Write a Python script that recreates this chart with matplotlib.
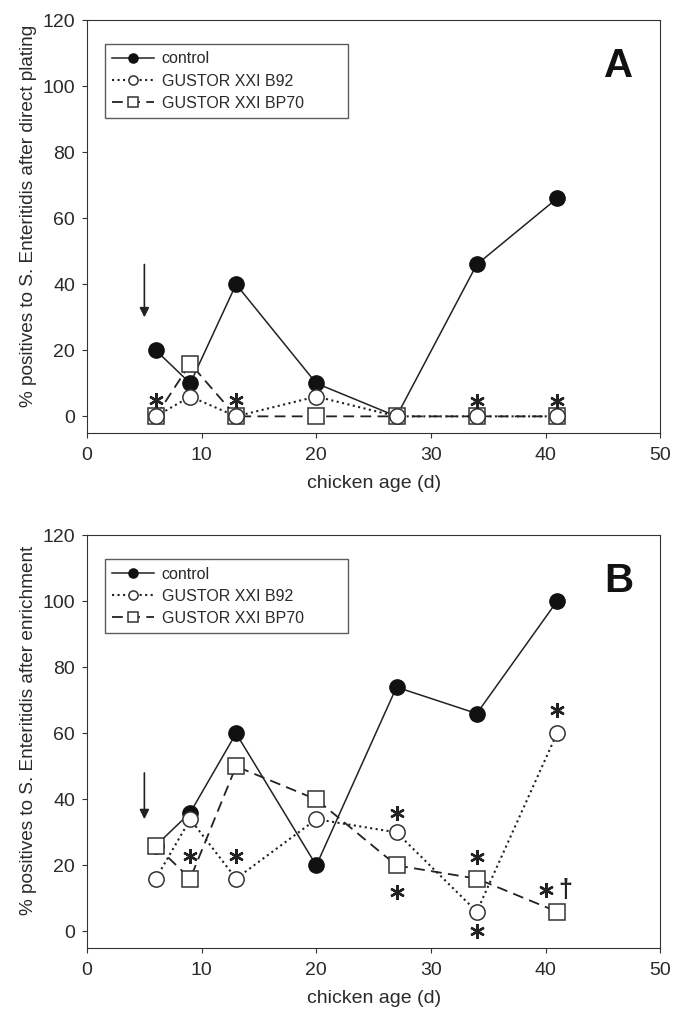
import numpy as np
import matplotlib.pyplot as plt

plt.rcParams['font.family'] = ['Liberation Sans', 'DejaVu Sans']

days = [6, 9, 13, 20, 27, 34, 41]

# panel A - direct plating
ctrlA = [20, 10, 40, 10, 0, 46, 66]
b92A = [0, 6, 0, 6, 0, 0, 0]
bp70A = [0, 16, 0, 0, 0, 0, 0]
starsA = [(6, 5), (13, 5), (34, 4.5), (41, 4.5)]

# panel B - enrichment
ctrlB = [26, 36, 60, 20, 74, 66, 100]
b92B = [16, 34, 16, 34, 30, 6, 60]
bp70B = [26, 16, 50, 40, 20, 16, 6]
starsB = [(9, 23), (13, 23), (27, 36), (27, 12), (34, 22.5), (34, 0), (40.0, 12.7), (41, 67)]
daggerB = (41.7, 12.7)

ylabels = ["% positives to S. Enteritidis after direct plating",
           "% positives to S. Enteritidis after enrichment"]

txt = '#2a2a2a'
fig = plt.figure(figsize=(6.75, 10.09), dpi=100)
axA = fig.add_axes([0.129, 0.571, 0.849, 0.409])
axB = fig.add_axes([0.129, 0.0605, 0.849, 0.409])


def panel(ax, ctrl, b92, bp70, stars, letter, ylab, arrow):
    ax.plot(days, ctrl, '-', color='#222', lw=1.1, marker='o', ms=11,
            mfc='#111', mec='#111', label='control', zorder=3)
    ax.plot(days, b92, ':', color='#222', lw=1.5, marker='o', ms=11,
            mfc='white', mec='#333', mew=1.1, label='GUSTOR XXI B92', zorder=5)
    ax.plot(days, bp70, '--', color='#222', lw=1.3, dashes=(6, 3.5), marker='s', ms=11,
            mfc='white', mec='#333', mew=1.1, label='GUSTOR XXI BP70', zorder=4)
    sx, sy = zip(*stars)
    ax.plot(sx, sy, ls='none', marker=(6, 2, 0), ms=10.5, mew=1.7, color='#222', zorder=6)
    ax.annotate('', xy=(5, arrow[1]), xytext=(5, arrow[0]),
                arrowprops=dict(arrowstyle='-|>', color='#222', lw=1.2,
                                mutation_scale=14, shrinkA=0, shrinkB=0))
    ax.text(46.4, 106, letter, fontsize=29, fontweight='bold', ha='center',
            va='center', color='#111')
    ax.set_xlim(0, 50)
    ax.set_ylim(-5, 120)
    ax.set_xticks(range(0, 51, 10))
    ax.set_yticks(range(0, 121, 20))
    ax.tick_params(direction='out', length=3.6, labelsize=14, labelcolor=txt, color='#333')
    ax.tick_params(axis='x', pad=6.5)
    ax.tick_params(axis='y', pad=5)
    for s in ax.spines.values():
        s.set_color('#333')
    ax.set_xlabel('chicken age (d)', fontsize=14, color=txt, labelpad=8)
    ax.set_ylabel(ylab, fontsize=13.7, color=txt)
    ax.yaxis.set_label_coords(-0.087, 0.527)
    leg = ax.legend(loc='upper left', bbox_to_anchor=(0.0175, 0.78, 0.452, 0.181),
                    mode='expand', fontsize=11.5,
                    frameon=True, fancybox=False, edgecolor='#333',
                    handlelength=2.6, handletextpad=0.5, borderpad=0.45,
                    labelspacing=0.45, markerscale=0.6)
    for t in leg.get_texts():
        t.set_color(txt)
    leg.get_frame().set_linewidth(1.0)


panel(axA, ctrlA, b92A, bp70A, starsA, 'A', ylabels[0], (46, 30))
panel(axB, ctrlB, b92B, bp70B, starsB, 'B', ylabels[1], (48, 34))
axB.text(daggerB[0], daggerB[1], '†', fontsize=18, fontweight='bold', ha='center',
         va='center', color='#222', zorder=6)

fig.savefig('out.png', dpi=100)
